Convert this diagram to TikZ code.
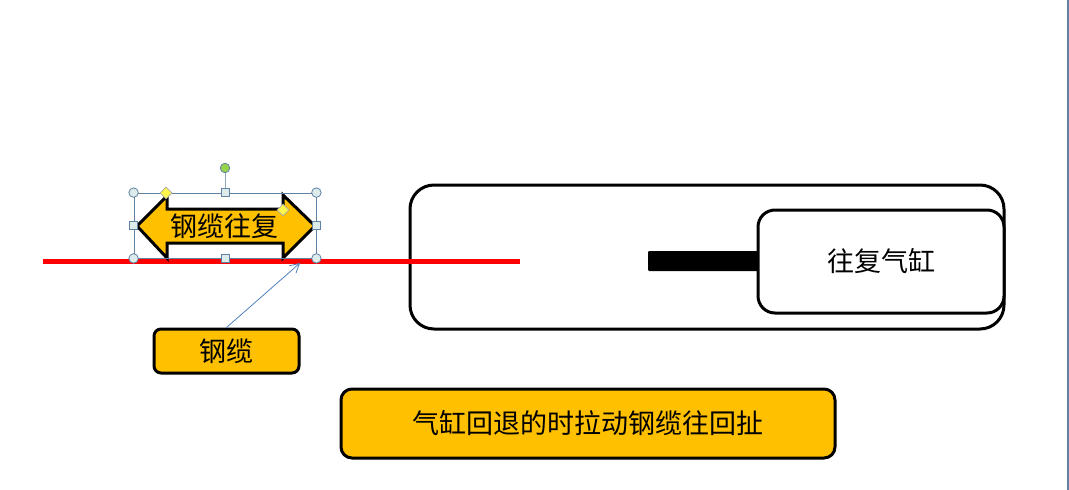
\documentclass[tikz,border=0pt]{standalone}
\usepackage{fontspec}
\setmainfont{Noto Sans CJK SC}
\usetikzlibrary{shapes.geometric,arrows.meta}
\definecolor{boxorange}{HTML}{FFC000}
\definecolor{handleblue}{HTML}{4F81BD}
\definecolor{framegray}{HTML}{5F82A5}
\definecolor{handlefill}{HTML}{DDEBEB}
\definecolor{rotategreen}{HTML}{96D24B}
\tikzset{
    boxnode/.style={draw, line width=3pt, inner sep=0pt, align=center, font=\fontsize{27}{27}\selectfont},
    cornerhandle/.style={circle, draw=framegray, fill=handlefill, line width=.8pt, minimum size=9.5pt, inner sep=0pt},
    sidehandle/.style={rectangle, draw=framegray, fill=handlefill, line width=.8pt, minimum size=8pt, inner sep=0pt},
    adjusthandle/.style={diamond, draw=gray!70, fill=yellow!70, line width=.6pt, minimum size=12pt, inner sep=0pt}
}
\begin{document}
\begin{tikzpicture}[x=1pt, y=-1pt]
    \useasboundingbox (0,0) rectangle (1069,490);
    \draw[color=framegray, line width=2pt] (1068,0) -- (1068,490);
    % cylinder
    \node[boxnode, rounded corners=24pt, minimum width=594pt, minimum height=144pt] (housing) at (707,257) {};
    \node[fill=black, rounded corners=1pt, minimum width=111pt, minimum height=20pt, inner sep=0pt] (rod) at (703.5,261) {};
    \node[boxnode, fill=white, rounded corners=17pt, minimum width=246pt, minimum height=103pt] (cylinder) at (881,261.5) {往复气缸};
    % cable
    \coordinate (cableleft) at (43,261.5);
    \coordinate (cableright) at (520,261.5);
    \draw[color=red, line width=4.5pt] (cableleft) -- (cableright);
    \draw[line width=3pt, fill=boxorange, line join=miter] (137,226) -- (167,196) -- (167,209) -- (283,209) -- (283,195)
        -- (315,226) -- (283,258) -- (283,243) -- (167,243) -- (167,258) -- cycle;
    \node[font=\fontsize{27}{27}\selectfont, inner sep=0pt] (motion) at (224,226) {钢缆往复};
    % selection frame
    \node[draw=framegray, line width=.8pt, minimum width=182pt, minimum height=65pt, inner sep=0pt] (frame) at (225,225.5) {};
    \node[cornerhandle, fill=rotategreen] (rotate) at (225,168) {};
    \draw[color=framegray!70, line width=1pt] (rotate) -- (frame.north);
    \foreach \name/\pos in {nw/north west, ne/north east, sw/south west, se/south east}
        \node[cornerhandle] (\name) at (frame.\pos) {};
    \foreach \name/\pos in {n/north, w/west, e/east, s/south}
        \node[sidehandle] (\name) at (frame.\pos) {};
    \node[adjusthandle] (adjustleft) at (166,193) {};
    \node[adjusthandle] (adjustright) at (283,210) {};
    % labels
    \node[boxnode, fill=boxorange, rounded corners=7pt, minimum width=145pt, minimum height=44pt] (cablelabel) at (226.5,351) {钢缆};
    \node[boxnode, fill=boxorange, rounded corners=11pt, minimum width=494pt, minimum height=69pt] (note) at (588,423.5) {气缸回退的时拉动钢缆往回扯};
    \coordinate (cabletip) at (300,263);
    \draw[-{Straight Barb[length=9pt,width=10pt]}, color=handleblue, line width=.8pt] (cablelabel.north) -- (cabletip);
\end{tikzpicture}
\end{document}
